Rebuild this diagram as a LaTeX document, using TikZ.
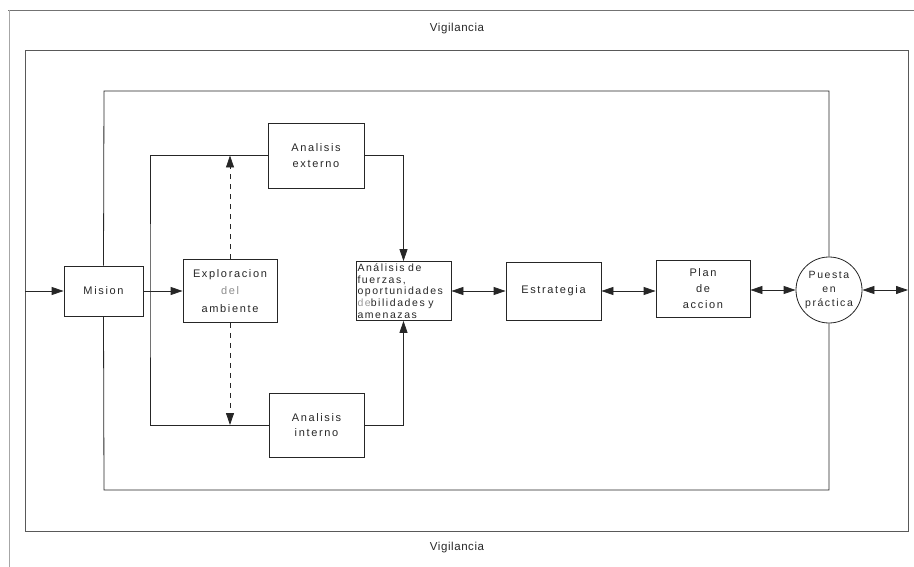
\documentclass[tikz,border=0pt]{standalone}
\usepackage{fontspec}
\setmainfont{Liberation Sans}[LetterSpace=15]
\newfontfamily\vigfont{Liberation Sans}[LetterSpace=5]
\usetikzlibrary{arrows.meta}
\definecolor{ink}{HTML}{262626}
\begin{document}
\begin{tikzpicture}[x=1pt,y=-1pt,
  box/.style={draw=black!85, line width=0.8pt, inner sep=1pt, align=center, text=ink,
    font=\fontsize{11}{13.5}\selectfont},
  conn/.style={draw=black!85, line width=0.8pt},
  tip/.style={conn, -{Triangle[length=12pt,width=8pt]}},
  dtip/.style={conn, {Triangle[length=12pt,width=8pt]}-{Triangle[length=12pt,width=8pt]}},
  frame/.style={draw=black!65, line width=0.8pt},
  vig/.style={text=ink, font=\vigfont\fontsize{11.5}{13}\selectfont}]
\useasboundingbox (0,0) rectangle (914,567);
% outer frame
\draw[draw=black!55, line width=0.6pt] (8,10) -- (914,10);
\draw[draw=black!35, line width=0.6pt] (9,10) -- (9,567);
\node[vig] (v1) at (457,29) {Vigilancia};
\node[vig] (v2) at (457,548) {Vigilancia};
% second frame
\draw[frame] (25,50) rectangle (908,531);
\coordinate (inL) at (25,291);
\coordinate (inR) at (908,291);
% nodes
\node[box, minimum width=79pt, minimum height=50pt] (mision) at (103.5,291) {Mision};
\node[box, minimum width=94pt, minimum height=63pt, font=\fontsize{11}{17.5}\selectfont] (exp) at (230,291) {Exploracion\\{\color{black!45}del}\\ambiente};
\node[box, minimum width=96pt, minimum height=65pt, font=\fontsize{11}{15.5}\selectfont] (ext) at (316,155.5) {Analisis\\externo};
\node[box, minimum width=95pt, minimum height=64pt, font=\fontsize{11}{15.5}\selectfont] (int) at (316.5,425) {Analisis\\interno};
\node[box, minimum width=95pt, minimum height=59pt, text width=92pt, align=left,
  inner sep=1.5pt, font=\fontsize{10.5}{11.6}\selectfont] (fz) at (403.5,291)
  {Análisis de\\fuerzas,\\oportunidades\\{\color{black!40}de}bilidades y\\amenazas};
\node[box, minimum width=95pt, minimum height=58pt] (es) at (553.5,291) {Estrategia};
\node[box, minimum width=94pt, minimum height=57pt, font=\fontsize{11}{16}\selectfont] (pl) at (703,289) {Plan\\de\\accion};
\node[box, circle, minimum size=66pt, inner sep=0pt, font=\fontsize{10.5}{14}\selectfont] (pp) at (829,290) {Puesta\\en\\práctica};
% outer loop
\coordinate (lt) at (104,91);
\coordinate (lb) at (104,490);
\draw[conn] (mision.north) -- (lt) -| (pp.north);
\draw[conn] (mision.south) -- (lb) -| (pp.south);
% inner loop
\coordinate (il) at (150,291);
\draw[conn] (ext.west) -| (il) |- (int.west);
\draw[tip] (ext.east) -| (fz.north);
\draw[tip] (int.east) -| (fz.south);
% dashed arrows
\draw[tip, dash pattern=on 5pt off 5pt] (exp.north) -- (exp.north |- ext.west);
\draw[tip, dash pattern=on 5pt off 5pt] (exp.south) -- (exp.south |- int.west);
% main row
\draw[tip] (inL) -- (mision.west);
\draw[tip] (mision.east) -- (exp.west);
\draw[dtip] (fz.east) -- (es.west);
\draw[dtip] (es.east) -- (pl.west |- es.east);
\draw[dtip] (pl.east |- pp.west) -- (pp.west);
\draw[dtip] (pp.east) -- (inR |- pp.east);
\end{tikzpicture}
\end{document}
